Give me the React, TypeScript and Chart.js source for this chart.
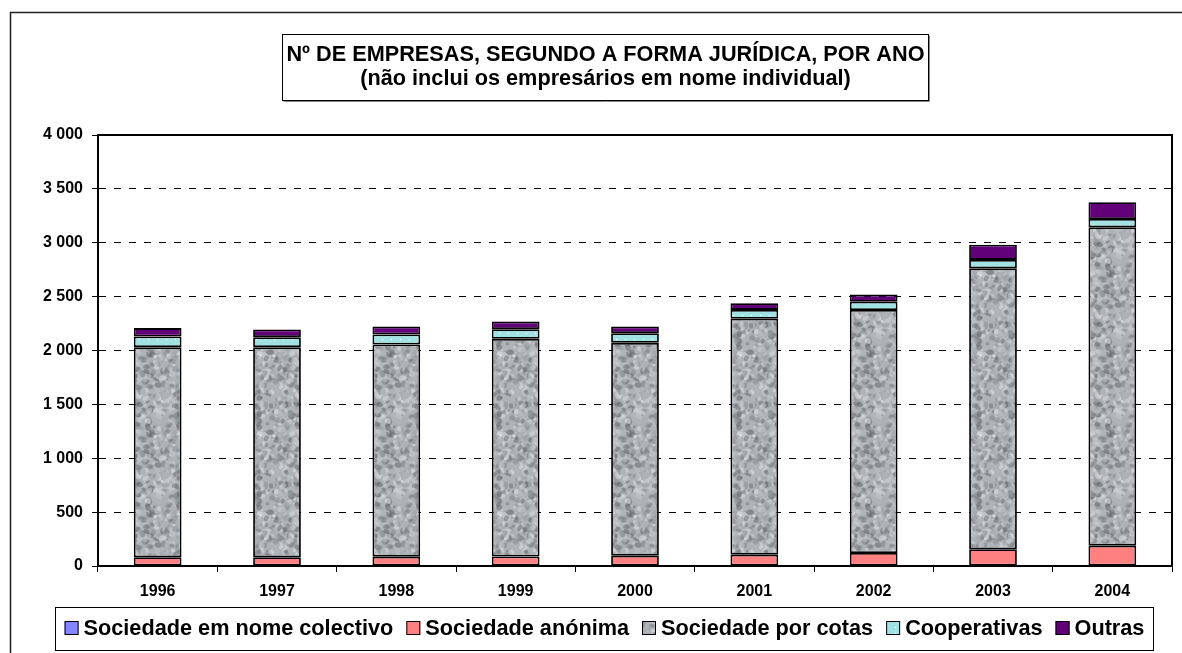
import React, { useEffect, useRef } from "react";
import { Chart, registerables } from "chart.js";

Chart.register(...registerables);

// ---- Data ----
const years = ["1996", "1997", "1998", "1999", "2000", "2001", "2002", "2003", "2004"];
const nomeColectivo = [5, 5, 5, 5, 4, 4, 4, 4, 4];
const sociedadeAnonima = [76, 76, 82, 83, 92, 101, 117, 151, 185];
const sociedadePorCotas = [1950, 1950, 1969, 2020, 1975, 2189, 2255, 2609, 2954];
const cooperativas = [99, 93, 93, 90, 90, 83, 77, 77, 78];
const outras = [78, 71, 74, 70, 62, 62, 66, 140, 155];
const seriesLabels = [
  "Sociedade em nome colectivo",
  "Sociedade anónima",
  "Sociedade por cotas",
  "Cooperativas",
  "Outras",
];
const titleLines = [
  "Nº DE EMPRESAS, SEGUNDO A FORMA JURÍDICA, POR ANO",
  "(não inclui os empresários em nome individual)",
];
const yMin = 0;
const yMax = 4000;
const yStep = 500;

const FONT = '"Liberation Sans", Arial, sans-serif';

function makeGranite(ctx: CanvasRenderingContext2D): CanvasPattern | string {
  const size = 80;
  const c = document.createElement("canvas");
  c.width = size;
  c.height = size;
  const g = c.getContext("2d");
  if (!g) return "#b0b4b8";
  g.fillStyle = "#b0b4b8";
  g.fillRect(0, 0, size, size);
  let s = 246813579;
  const rnd = () => {
    s = (Math.imul(s, 1103515245) + 12345) >>> 0;
    return s / 4294967296;
  };
  for (let i = 0; i < 520; i++) {
    const x = rnd() * size;
    const y = rnd() * size;
    const r = 1.2 + rnd() * 2.8;
    const v = Math.round(85 + rnd() * 150);
    g.fillStyle = `rgba(${v},${v + 3},${v + 7},0.5)`;
    for (const dx of [-size, 0, size]) {
      for (const dy of [-size, 0, size]) {
        g.beginPath();
        g.ellipse(x + dx, y + dy, r, r * 0.75, (i % 7) * 0.45, 0, Math.PI * 2);
        g.fill();
      }
    }
  }
  return ctx.createPattern(c, "repeat") || "#b0b4b8";
}

function makeDots(ctx: CanvasRenderingContext2D): CanvasPattern | string {
  const c = document.createElement("canvas");
  c.width = 9;
  c.height = 6;
  const g = c.getContext("2d");
  if (!g) return "#a2e2e2";
  g.fillStyle = "#a2e2e2";
  g.fillRect(0, 0, 9, 6);
  g.fillStyle = "#ffffff";
  g.fillRect(4, 3, 1, 1);
  return ctx.createPattern(c, "repeat") || "#a2e2e2";
}

const decorPlugin = {
  id: "decor",
  afterDraw(chart: any) {
    const { ctx, chartArea: a } = chart;
    ctx.save();

    // outer frame (top & left visible)
    ctx.strokeStyle = "#222";
    ctx.lineWidth = 1.5;
    ctx.beginPath();
    ctx.moveTo(10.5, 660);
    ctx.lineTo(10.5, 12.5);
    ctx.lineTo(1190, 12.5);
    ctx.stroke();

    // plot frame top & right
    ctx.strokeStyle = "#000";
    ctx.lineWidth = 2;
    ctx.beginPath();
    ctx.moveTo(a.left, a.top);
    ctx.lineTo(a.right, a.top);
    ctx.lineTo(a.right, a.bottom);
    ctx.stroke();

    // title box
    const tb = { l: 282.5, t: 34.5, r: 928.5, b: 100.5 };
    ctx.strokeStyle = "#000";
    ctx.lineWidth = 1;
    ctx.strokeRect(tb.l, tb.t, tb.r - tb.l, tb.b - tb.t);
    ctx.strokeStyle = "#888";
    ctx.beginPath();
    ctx.moveTo(tb.l + 1, tb.b + 1);
    ctx.lineTo(tb.r + 1, tb.b + 1);
    ctx.lineTo(tb.r + 1, tb.t + 1);
    ctx.stroke();
    ctx.fillStyle = "#000";
    ctx.font = `bold 21.7px ${FONT}`;
    ctx.textAlign = "center";
    ctx.textBaseline = "middle";
    const cx = (tb.l + tb.r) / 2;
    ctx.fillText(titleLines[0], cx, 55);
    ctx.fillText(titleLines[1], cx, 79);

    // legend box
    const lb = { l: 55.5, t: 607.5, r: 1153.5, b: 650.5 };
    ctx.strokeStyle = "#000";
    ctx.lineWidth = 1;
    ctx.strokeRect(lb.l, lb.t, lb.r - lb.l, lb.b - lb.t);
    ctx.font = `bold 21.7px ${FONT}`;
    ctx.textAlign = "left";
    ctx.textBaseline = "middle";
    const datasets = chart.data.datasets;
    const box = 14;
    const gapBoxText = 5;
    const gapItems = 13;
    const widths = datasets.map((d: any) => box + gapBoxText + ctx.measureText(d.label).width);
    const total = widths.reduce((p: number, w: number) => p + w, 0) + gapItems * (datasets.length - 1);
    let x = (lb.l + lb.r) / 2 - total / 2;
    const cy = 628;
    datasets.forEach((d: any, i: number) => {
      ctx.fillStyle = d.backgroundColor;
      ctx.fillRect(x, cy - box / 2, box, box);
      ctx.strokeStyle = "#000";
      ctx.lineWidth = 1;
      ctx.strokeRect(x + 0.5, cy - box / 2 + 0.5, box - 1, box - 1);
      ctx.fillStyle = "#000";
      ctx.fillText(d.label, x + box + gapBoxText, cy + 1);
      x += widths[i] + gapItems;
    });

    ctx.restore();
  },
};

export default function App() {
  const ref = useRef<HTMLCanvasElement | null>(null);

  useEffect(() => {
    const canvas = ref.current;
    if (!canvas) return;
    const ctx = canvas.getContext("2d");
    if (!ctx) return;
    const granite = makeGranite(ctx);
    const dots = makeDots(ctx);

    const common = {
      borderColor: "#000",
      borderWidth: 1.8,
      borderSkipped: false,
      barPercentage: 0.4,
      categoryPercentage: 1.0,
    };

    const chart = new Chart(ctx, {
      type: "bar",
      data: {
        labels: years,
        datasets: [
          { label: seriesLabels[0], data: nomeColectivo, backgroundColor: "#8585ff", ...common },
          { label: seriesLabels[1], data: sociedadeAnonima, backgroundColor: "#ff8080", ...common },
          { label: seriesLabels[2], data: sociedadePorCotas, backgroundColor: granite as any, ...common },
          { label: seriesLabels[3], data: cooperativas, backgroundColor: dots as any, ...common },
          { label: seriesLabels[4], data: outras, backgroundColor: "#62007a", ...common },
        ] as any,
      },
      options: {
        responsive: false,
        animation: false,
        devicePixelRatio: 1,
        layout: { padding: { top: 135, right: 10, bottom: 46, left: 0 } },
        plugins: {
          legend: { display: false },
          title: { display: false },
          tooltip: { enabled: false },
        },
        scales: {
          x: {
            stacked: true,
            offset: true,
            grid: {
              display: true,
              offset: true,
              drawOnChartArea: false,
              drawTicks: true,
              tickLength: 6,
              color: "#000",
            },
            border: { display: true, color: "#000", width: 2 },
            ticks: {
              color: "#000",
              font: { family: FONT, size: 16, weight: "bold" },
              padding: 10,
              autoSkip: false,
              maxRotation: 0,
            },
            afterFit: (scale: any) => {
              scale.height = 41;
            },
          },
          y: {
            stacked: true,
            min: yMin,
            max: yMax,
            grid: {
              color: "#000",
              lineWidth: 1,
              drawTicks: true,
              tickLength: 6,
              tickColor: "#000",
            },
            border: { display: true, color: "#000", width: 2, dash: [7, 8] },
            ticks: {
              stepSize: yStep,
              color: "#000",
              font: { family: FONT, size: 16, weight: "bold" },
              padding: 9,
              callback: (v: any) => {
                const n = Number(v);
                return n >= 1000
                  ? `${Math.floor(n / 1000)} ${String(n % 1000).padStart(3, "0")}`
                  : String(n);
              },
            },
            afterFit: (scale: any) => {
              scale.width = 98;
            },
          },
        },
      } as any,
      plugins: [decorPlugin],
    });

    return () => chart.destroy();
  }, []);

  return (
    <div style={{ position: "fixed", left: 0, top: 0, width: 1182, height: 653, background: "#fff" }}>
      <canvas ref={ref} width={1182} height={653} style={{ display: "block" }} />
    </div>
  );
}
